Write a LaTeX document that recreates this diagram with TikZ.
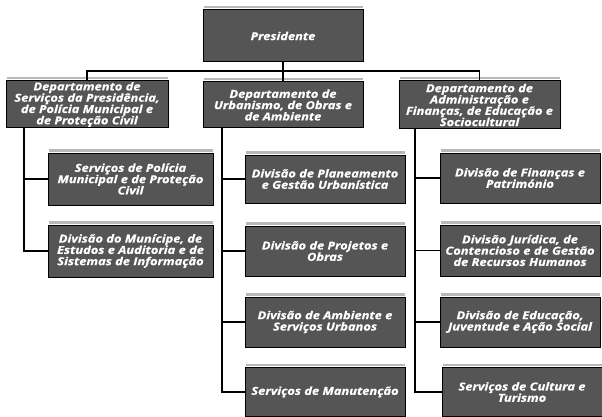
\documentclass[tikz,border=0pt]{standalone}
\usepackage{fontspec}
\setmainfont{Open Sans}
\newfontfamily\boxfont[FakeStretch=1.17, FakeBold=0.6]{Open Sans}
\definecolor{boxgray}{HTML}{555555}
\definecolor{boxtop}{HTML}{B8B8B8}
\begin{document}
\begin{tikzpicture}[x=1pt,y=-1pt,
  orgbox/.style={draw=black, line width=1pt, fill=boxgray, text=white,
    font=\boxfont\bfseries\itshape\fontsize{11}{11.3}\selectfont, align=center,
    inner sep=1pt, rectangle},
  link/.style={draw=black, line width=1.6pt}]
\useasboundingbox (0,0) rectangle (602,417);
% top
\node[orgbox, minimum width=160pt, minimum height=52pt] (pres) at (283,36) {Presidente};
% departments
\node[orgbox, minimum width=162pt, minimum height=47pt] (d1) at (87,104.5)
  {Departamento de\\Serviços da Presidência,\\de Polícia Municipal e\\de Proteção Civil};
\node[orgbox, minimum width=160pt, minimum height=46pt] (d2) at (283,105)
  {Departamento de\\Urbanismo, de Obras e\\de Ambiente};
\node[orgbox, minimum width=161pt, minimum height=48pt] (d3) at (479.5,105)
  {Departamento de\\Administração e\\Finanças, de Educação e\\Sociocultural};
% left column
\node[orgbox, minimum width=165pt, minimum height=52pt] (l1) at (130.5,179)
  {Serviços de Polícia\\Municipal e de Proteção\\Civil};
\node[orgbox, minimum width=165pt, minimum height=52pt] (l2) at (130.5,251)
  {Divisão do Munícipe, de\\Estudos e Auditoria e de\\Sistemas de Informação};
% middle column
\node[orgbox, minimum width=160pt, minimum height=48pt] (m1) at (325,179)
  {Divisão de Planeamento\\e Gestão Urbanística};
\node[orgbox, minimum width=160pt, minimum height=50pt] (m2) at (325,251)
  {Divisão de Projetos e\\Obras};
\node[orgbox, minimum width=160pt, minimum height=50pt] (m3) at (325,322)
  {Divisão de Ambiente e\\Serviços Urbanos};
\node[orgbox, minimum width=160pt, minimum height=49pt] (m4) at (325,392)
  {Serviços de Manutenção};
% right column
\node[orgbox, minimum width=160pt, minimum height=50pt] (r1) at (520,178)
  {Divisão de Finanças e\\Património};
\node[orgbox, minimum width=160pt, minimum height=51pt] (r2) at (520,250.5)
  {Divisão Jurídica, de\\Contencioso e de Gestão\\de Recursos Humanos};
\node[orgbox, minimum width=160pt, minimum height=50pt] (r3) at (520,322)
  {Divisão de Educação,\\Juventude e Ação Social};
\node[orgbox, minimum width=160pt, minimum height=49pt] (r4) at (522,392)
  {Serviços de Cultura e\\Turismo};
% top highlights
\foreach \n in {pres,d1,d2,d3,l1,l2,m1,m2,m3,m4,r1,r2,r3,r4}{
  \fill[boxtop] ([xshift=1pt,yshift=1pt]\n.north west) rectangle ([xshift=-1pt,yshift=3.5pt]\n.north east);
}
% bus
\coordinate (bus) at (0,71);
\draw[link] (pres.south) -- (d2.north);
\draw[link] (d1.north) -- (d1.north |- bus) -- (d3.north |- bus) -- (d3.north);
% left stem
\coordinate (sl) at (24,128);
\draw[link] (sl) |- (l2.west);
\draw[link] (sl |- l1.west) -- (l1.west);
% middle stem
\coordinate (sm) at (222,128);
\draw[link] (sm) |- (m4.west);
\draw[link] (sm |- m1.west) -- (m1.west);
\draw[link] (sm |- m2.west) -- (m2.west);
\draw[link] (sm |- m3.west) -- (m3.west);
% right stem
\coordinate (sr) at (415,129);
\draw[link] (sr) |- (r4.west);
\draw[link] (sr |- r1.west) -- (r1.west);
\draw[link] (sr |- r2.west) -- (r2.west);
\draw[link] (sr |- r3.west) -- (r3.west);
\end{tikzpicture}
\end{document}
